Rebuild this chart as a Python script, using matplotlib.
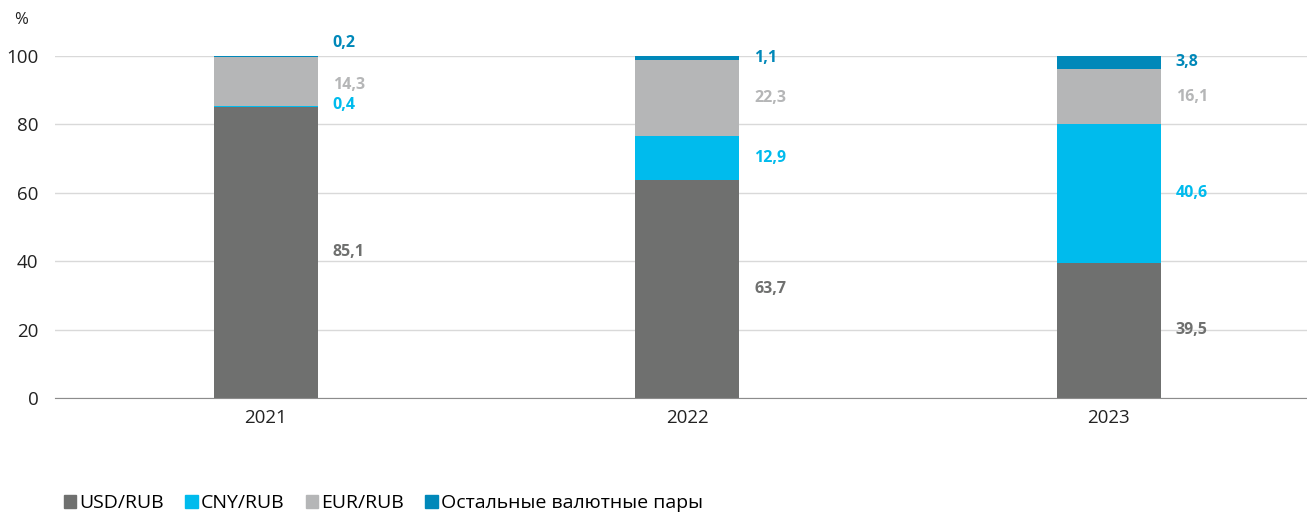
import numpy as np
import matplotlib.pyplot as plt
from matplotlib.patches import Patch

years = ['2021', '2022', '2023']
usd = [85.1, 63.7, 39.5]
cny = [0.4, 12.9, 40.6]
eur = [14.3, 22.3, 16.1]
other = [0.2, 1.1, 3.8]

series = [('USD/RUB', usd, '#6f706f'),
          ('CNY/RUB', cny, '#00bbed'),
          ('EUR/RUB', eur, '#b5b6b7'),
          ('Остальные валютные пары', other, '#0088b9')]

# nudges for thin segments so labels don't collide
nudge = {(0, 1): 0.5, (0, 2): -1.0, (0, 3): 3.9}

plt.rcParams['font.family'] = ['Open Sans', 'DejaVu Sans']

fig = plt.figure(figsize=(13.07, 5.14), dpi=100)
ax = fig.add_axes([55 / 1307, 1 - 398 / 514, 1 - 55 / 1307, (398 - 56) / 514])

x = np.arange(len(years))
w = 0.247
bottom = np.zeros(len(years))
for j, (name, vals, col) in enumerate(series):
    vals = np.array(vals)
    ax.bar(x, vals, w, bottom=bottom, color=col, zorder=3)
    for i in range(len(years)):
        y = bottom[i] + vals[i] / 2 + nudge.get((i, j), 0)
        ax.text(x[i] + w / 2 + 0.035, y, f'{vals[i]:.1f}'.replace('.', ','),
                color=col, fontsize=11.5, fontweight='bold', va='center',
                ha='left', clip_on=False)
    bottom += vals

ax.set_xlim(-0.5, 2.47)
ax.set_ylim(0, 100)
ax.set_yticks(range(0, 101, 20))
ax.set_xticks(x)
ax.set_xticklabels(years)
ax.tick_params(length=0, labelsize=13.5, colors='#222222', pad=8)
ax.tick_params(axis='y', pad=12)
ax.yaxis.grid(True, color='#d9d9d9', lw=1, zorder=0)
for s in ['top', 'right', 'left']:
    ax.spines[s].set_visible(False)
ax.spines['bottom'].set_color('#8c8c8c')
ax.spines['bottom'].set_zorder(4)

fig.text(14 / 1307, 1 - 20 / 514, '%', fontsize=12, color='#222222', va='center')

handles = [Patch(color=c, label=n) for n, _, c in series]
fig.legend(handles=handles, loc='center left', bbox_to_anchor=(46 / 1307, 1 - 503 / 514),
           ncol=4, frameon=False, fontsize=14, handlelength=0.65, handleheight=0.65,
           handletextpad=0.15, columnspacing=1.1)

fig.savefig('out.png', dpi=100)
